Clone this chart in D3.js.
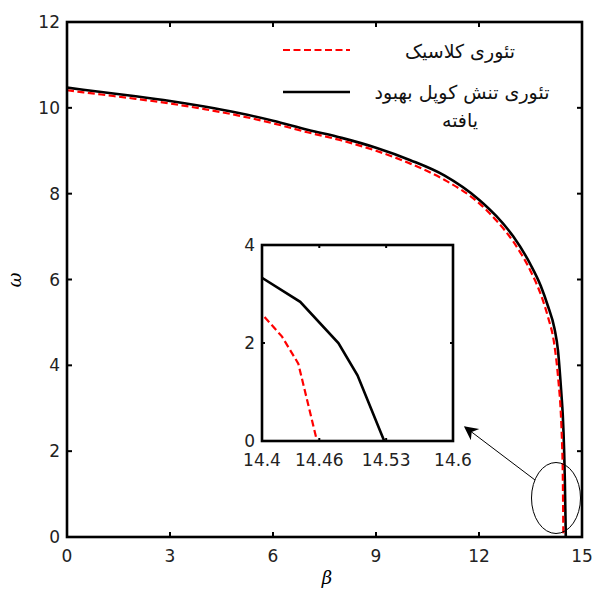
<!DOCTYPE html>
<html>
<head>
<meta charset="utf-8">
<script src="https://cdn.jsdelivr.net/npm/d3@7"></script>
<style>
  body { margin: 0; background: #fff; }
  text { font-family: "DejaVu Sans", sans-serif; }
</style>
</head>
<body>
<script>
// data
let classicBeta  = [0, 1, 2, 3, 4, 5, 6, 7, 8, 9, 10, 11, 12, 12.5, 13, 13.5, 13.8, 14.0, 14.2, 14.3, 14.4, 14.421, 14.438, 14.4576];
let classicOmega = [10.41, 10.31, 10.21, 10.1, 9.97, 9.82, 9.64, 9.43, 9.24, 9.0, 8.7, 8.32, 7.78, 7.38, 6.88, 6.2, 5.65, 5.15, 4.45, 3.75, 2.59, 2.13, 1.58, 0];
let mcstBeta  = [0, 1, 2, 3, 4, 5, 6, 7, 8, 9, 10, 11, 12, 12.5, 13, 13.5, 13.8, 14.0, 14.2, 14.3, 14.4, 14.44, 14.48, 14.5, 14.528];
let mcstOmega = [10.47, 10.37, 10.27, 10.16, 10.03, 9.88, 9.7, 9.49, 9.3, 9.07, 8.78, 8.42, 7.86, 7.48, 7.0, 6.35, 5.85, 5.4, 4.85, 4.35, 3.33, 2.84, 2.0, 1.34, 0];

let xTicks = [0, 3, 6, 9, 12, 15];
let yTicks = [0, 2, 4, 6, 8, 10, 12];
let insetXTicks = [14.4, 14.46, 14.53, 14.6];
let insetYTicks = [0, 2, 4];

let legendLabels = ["تئوری کلاسیک", "تئوری تنش کوپل بهبود", "یافته"];

let width = 593, height = 592;
let svg = d3.select("body").append("svg")
  .attr("width", width)
  .attr("height", height);

let classic = classicBeta.map((b, i) => [b, classicOmega[i]]);
let mcst = mcstBeta.map((b, i) => [b, mcstOmega[i]]);

// main axes
let x = d3.scaleLinear().domain([0, 15]).range([67, 582]);
let y = d3.scaleLinear().domain([0, 12]).range([537, 22]);

function drawCurves(g, xs, ys, clip, curve) {
  let line = d3.line().x(d => xs(d[0])).y(d => ys(d[1])).curve(curve);
  g.append("path").datum(mcst)
    .attr("d", line).attr("fill", "none")
    .attr("stroke", "#000").attr("stroke-width", 2.6)
    .attr("clip-path", clip);
  g.append("path").datum(classic)
    .attr("d", line).attr("fill", "none")
    .attr("stroke", "#ff0000").attr("stroke-width", 2.2)
    .attr("stroke-dasharray", "7,3.5")
    .attr("clip-path", clip);
}

function drawBox(g, xs, ys, xt, yt, fmt, tickLen) {
  let [x0, x1] = xs.range(), [y0, y1] = ys.range();
  // ticks inward on all four sides
  xt.forEach(t => {
    g.append("line").attr("x1", xs(t)).attr("x2", xs(t)).attr("y1", y0).attr("y2", y0 - tickLen)
      .attr("stroke", "#000").attr("stroke-width", 2);
    g.append("line").attr("x1", xs(t)).attr("x2", xs(t)).attr("y1", y1).attr("y2", y1 + tickLen)
      .attr("stroke", "#000").attr("stroke-width", 2);
    g.append("text").attr("x", xs(t)).attr("y", y0 + 25)
      .attr("text-anchor", "middle").attr("font-size", 17).attr("fill", "#222")
      .text(fmt(t));
  });
  yt.forEach(t => {
    g.append("line").attr("x1", x0).attr("x2", x0 + tickLen).attr("y1", ys(t)).attr("y2", ys(t))
      .attr("stroke", "#000").attr("stroke-width", 2);
    g.append("line").attr("x1", x1).attr("x2", x1 - tickLen).attr("y1", ys(t)).attr("y2", ys(t))
      .attr("stroke", "#000").attr("stroke-width", 2);
    g.append("text").attr("x", x0 - 7).attr("y", ys(t) + 6)
      .attr("text-anchor", "end").attr("font-size", 17).attr("fill", "#222")
      .text(fmt(t));
  });
  g.append("rect").attr("x", x0).attr("y", y1)
    .attr("width", x1 - x0).attr("height", y0 - y1)
    .attr("fill", "none").attr("stroke", "#000").attr("stroke-width", 2.6);
}

let main = svg.append("g");
drawCurves(main, x, y, null, d3.curveMonotoneX);
drawBox(main, x, y, xTicks, yTicks, d => d, 5);

// axis labels
svg.append("text").attr("x", 327).attr("y", 584)
  .attr("text-anchor", "middle").attr("font-size", 18)
  .style("font-family", "'DejaVu Serif', serif").style("font-style", "italic")
  .text("β");
svg.append("text")
  .attr("transform", "translate(21,280) rotate(-90)")
  .attr("text-anchor", "middle").attr("font-size", 18)
  .style("font-family", "'DejaVu Serif', serif").style("font-style", "italic")
  .text("ω");

// legend
let legend = svg.append("g");
legend.append("line").attr("x1", 283).attr("x2", 350).attr("y1", 50).attr("y2", 50)
  .attr("stroke", "#ff0000").attr("stroke-width", 2.2).attr("stroke-dasharray", "7,3.5");
legend.append("line").attr("x1", 283).attr("x2", 350).attr("y1", 92).attr("y2", 92)
  .attr("stroke", "#000").attr("stroke-width", 2.6);
legend.append("text").attr("x", 460).attr("y", 58).attr("text-anchor", "middle")
  .attr("font-size", 19).attr("fill", "#111").text(legendLabels[0]);
legend.append("text").attr("x", 462).attr("y", 99).attr("text-anchor", "middle")
  .attr("font-size", 19).attr("fill", "#111").text(legendLabels[1]);
legend.append("text").attr("x", 460).attr("y", 127).attr("text-anchor", "middle")
  .attr("font-size", 19).attr("fill", "#111").text(legendLabels[2]);

// ellipse around zoomed region and arrow
svg.append("defs").append("marker")
  .attr("id", "arrow").attr("viewBox", "0 0 10 10")
  .attr("refX", 9).attr("refY", 5)
  .attr("markerWidth", 22).attr("markerHeight", 14)
  .attr("markerUnits", "userSpaceOnUse")
  .attr("orient", "auto")
  .append("path").attr("d", "M0,0 L10,5 L0,10 L3,5 Z").attr("fill", "#000");

svg.append("ellipse").attr("cx", 556).attr("cy", 498).attr("rx", 24.5).attr("ry", 35.5)
  .attr("fill", "none").attr("stroke", "#000").attr("stroke-width", 1);
svg.append("line").attr("x1", 535).attr("y1", 480).attr("x2", 465).attr("y2", 427)
  .attr("stroke", "#000").attr("stroke-width", 1).attr("marker-end", "url(#arrow)");

// inset
let xi = d3.scaleLinear().domain([14.4, 14.6]).range([262, 453]);
let yi = d3.scaleLinear().domain([0, 4]).range([441, 245]);
let inset = svg.append("g");
inset.append("rect").attr("x", 262).attr("y", 245).attr("width", 191).attr("height", 196).attr("fill", "#fff");
svg.append("clipPath").attr("id", "insetClip")
  .append("rect").attr("x", 262).attr("y", 245).attr("width", 191).attr("height", 196);
drawCurves(inset, xi, yi, "url(#insetClip)", d3.curveLinear);
drawBox(inset, xi, yi, insetXTicks, insetYTicks, d => d, 3);
</script>
</body>
</html>
